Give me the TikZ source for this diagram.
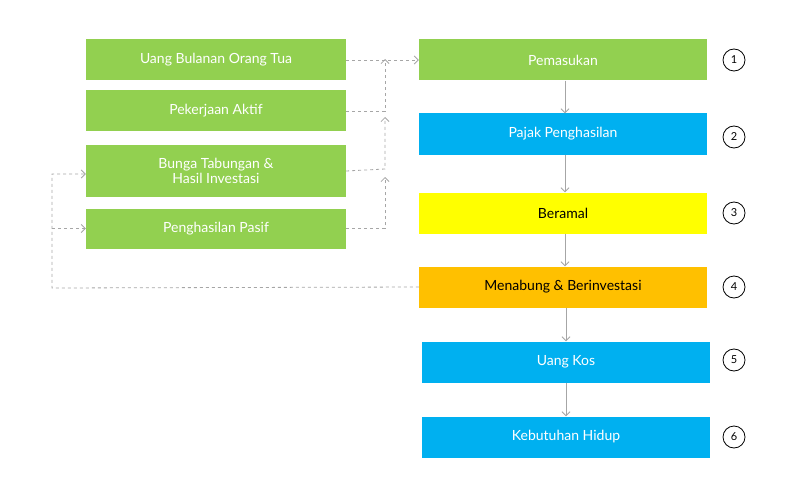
\documentclass[tikz,border=0pt]{standalone}
\usepackage{fontspec}
\setmainfont{Lato}
\usetikzlibrary{arrows.meta}
\definecolor{gr}{HTML}{92D050}
\definecolor{bl}{HTML}{00B0F0}
\definecolor{ye}{HTML}{FFFF00}
\definecolor{og}{HTML}{FFC000}
\definecolor{ln}{HTML}{A6A6A6}
\begin{document}
\begin{tikzpicture}[x=1pt,y=-1pt,
 box/.style={minimum height=41pt,inner sep=0pt,font=\fontsize{14}{15}\selectfont,text=white,align=center},
 lb/.style={box,fill=gr,minimum width=260pt},
 rb/.style={box,minimum width=288pt},
 num/.style={circle,draw,thick,minimum size=22pt,inner sep=0pt,font=\fontsize{11}{12}\selectfont},
 dl/.style={ln,thick,dashed,-{Straight Barb[length=4pt]}},
 sl/.style={ln,thick,-{Straight Barb[length=4pt]}}]
\path[use as bounding box] (0,0) rectangle (800,500);
\node[lb] (a) at (216,60) {Uang Bulanan Orang Tua};
\node[lb] (b) at (216,111) {Pekerjaan Aktif};
\node[lb,minimum height=52pt] (c) at (216,171) {Bunga Tabungan \&\\Hasil Investasi};
\node[lb,minimum height=40pt] (d) at (216,228.5) {Penghasilan Pasif};
\node[rb,fill=gr] (p1) at (563,60) {Pemasukan};
\node[rb,fill=bl] (p2) at (563,134) {Pajak Penghasilan};
\node[rb,fill=ye,text=black] (p3) at (563,213) {Beramal};
\node[rb,fill=og,text=black] (p4) at (563,287) {Menabung \& Berinvestasi};
\node[rb,fill=bl] (p5) at (566,362) {Uang Kos};
\node[rb,fill=bl] (p6) at (566,437) {Kebutuhan Hidup};
\node[num] (n1) at (734,60) {1};
\node[num] (n2) at (734,137) {2};
\node[num] (n3) at (734,213) {3};
\node[num] (n4) at (734,287) {4};
\node[num] (n5) at (734,360) {5};
\node[num] (n6) at (734,437) {6};
\draw[sl] (p1.south -| 565,0) -- (p2.north -| 565,0);
\draw[sl] (p2.south -| 565,0) -- (p3.north -| 565,0);
\draw[sl] (p3.south -| 565,0) -- (p4.north -| 565,0);
\draw[sl] (p4.south -| 566,0) -- (p5.north -| 566,0);
\draw[sl] (p5.south -| 566,0) -- (p6.north -| 566,0);
\coordinate (j1) at (385,61);
\coordinate (j2) at (385,117);
\coordinate (j3) at (385,177);
\draw[dl] (a.east) -- (p1.west);
\draw[dl] (b.east) -- (385,111) -- ([yshift=2pt]j1);
\draw[dl] (c.east) -- (385,169) -- (j2);
\draw[dl] (d.east) -- (385,228.5) -- (j3);
\coordinate (k1) at (52,288);
\draw[dl] (p4.west) -- (k1) -- (52,174) -- (c.west |- 0,174);
\draw[dl] (52,228.5) -- (d.west);
\end{tikzpicture}
\end{document}
